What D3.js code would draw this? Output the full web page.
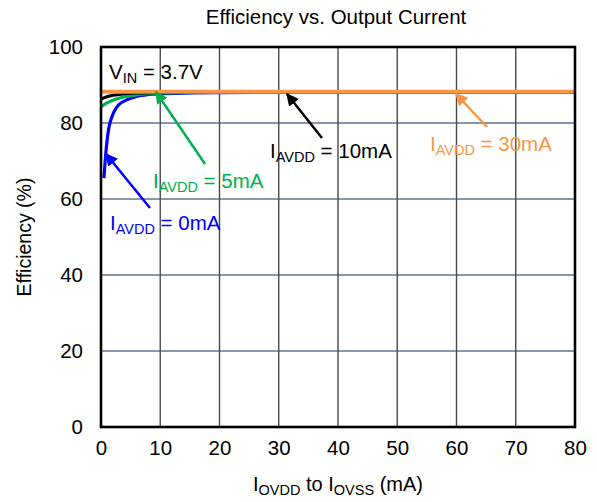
<!DOCTYPE html>
<html><head><meta charset="utf-8">
<script src="https://cdn.jsdelivr.net/npm/d3@7"></script>
<style>body{margin:0;background:#fff}svg{font-family:"Liberation Sans",Arial,sans-serif}</style>
</head><body><svg id="c" width="597" height="502"></svg>
<script>
const xTicks = [0,10,20,30,40,50,60,70,80];
const yTicks = [0,20,40,60,80,100];
const x0mA = [0.5,0.7,1,1.3,1.7,2.2,3,4,5,6,8,10,15,20,30,40,50,60,70,80];
const y0mA = [65.5,70,75,78.5,81,83,84.8,85.8,86.5,87,87.5,87.7,87.9,88,88.1,88.1,88.1,88.1,88.1,88.1];
const x5mA = [0,1,2,3,4,6,8,10,15,20,30,40,50,60,70,80];
const y5mA = [84.3,85.3,86,86.5,86.9,87.4,87.7,87.9,88,88.1,88.1,88.1,88.1,88.1,88.1,88.1];
const x10mA = [0,1,2,4,6,10,20,30,40,50,60,70,80];
const y10mA = [86.3,86.9,87.3,87.7,87.9,88,88.1,88.1,88.1,88.1,88.1,88.1,88.1];
const x30mA = [0,10,20,30,40,50,60,70,80];
const y30mA = [88.2,88.2,88.2,88.2,88.2,88.2,88.2,88.2,88.2];

const svg = d3.select("#c");
const L=101,R=575,T=47,B=427;
const x = d3.scaleLinear().domain([0,80]).range([L,R]);
const y = d3.scaleLinear().domain([0,100]).range([B,T]);

svg.append("text").attr("x",336).attr("y",24).attr("text-anchor","middle").attr("font-size",20.5).text("Efficiency vs. Output Current");

// grid
svg.append("g").selectAll("line").data(yTicks.slice(1,-1)).join("line")
 .attr("x1",L).attr("x2",R).attr("y1",d=>y(d)).attr("y2",d=>y(d)).attr("stroke","#5f7390").attr("stroke-width",1.4);
svg.append("g").selectAll("line").data(xTicks.slice(1,-1)).join("line")
 .attr("y1",T).attr("y2",B).attr("x1",d=>x(d)).attr("x2",d=>x(d)).attr("stroke","#4a4a4a").attr("stroke-width",1.4);

// axes labels
const xa = svg.append("g").attr("transform",`translate(0,${B})`).call(d3.axisBottom(x).tickValues(xTicks).tickSize(0).tickPadding(13));
xa.select(".domain").remove();
xa.selectAll("text").attr("font-size",20.5).attr("font-family","Liberation Sans, Arial").attr("fill","#000");
const ya = svg.append("g").attr("transform",`translate(${L},0)`).call(d3.axisLeft(y).tickValues(yTicks).tickSize(0).tickPadding(18));
ya.select(".domain").remove();
ya.selectAll("text").attr("font-size",20.5).attr("font-family","Liberation Sans, Arial").attr("fill","#000");

svg.append("text").attr("transform","translate(31,237) rotate(-90)").attr("text-anchor","middle").attr("font-size",19.5).text("Efficiency (%)");
const xl = svg.append("text").attr("x",338).attr("y",491).attr("text-anchor","middle").attr("font-size",20);
xl.append("tspan").text("I");
xl.append("tspan").attr("font-size",14.5).attr("dy",4).text("OVDD");
xl.append("tspan").attr("dy",-4).text(" to I");
xl.append("tspan").attr("font-size",14.5).attr("dy",4).text("OVSS");
xl.append("tspan").attr("dy",-4).text(" (mA)");

// curves
const line = d3.line().x(d=>x(d[0])).y(d=>y(d[1])).curve(d3.curveMonotoneX);
const series = [
 {xs:x0mA, ys:y0mA, c:"#0000ff", w:3.2},
 {xs:x5mA, ys:y5mA, c:"#00b050", w:3.2},
 {xs:x10mA, ys:y10mA, c:"#000000", w:3.2},
 {xs:x30mA, ys:y30mA, c:"#f79646", w:4}
];
svg.append("defs");
series.forEach(s=>{
 svg.append("path").datum(s.xs.map((v,i)=>[v,s.ys[i]])).attr("d",line).attr("fill","none").attr("stroke",s.c).attr("stroke-width",s.w);
});

// frame
svg.append("rect").attr("x",L).attr("y",T).attr("width",R-L).attr("height",B-T).attr("fill","none").attr("stroke","#000").attr("stroke-width",2.6);

// annotations
const defs = svg.select("defs");
function arrow(id,c){
 defs.append("marker").attr("id",id).attr("viewBox","0 0 10 10").attr("refX",9).attr("refY",5)
  .attr("markerWidth",5).attr("markerHeight",5).attr("orient","auto").attr("markerUnits","strokeWidth")
  .append("path").attr("d","M0,0 L10,5 L0,10 Z").attr("fill",c);
}
const ann = [
 {id:"a0",c:"#0000ff",x1:150,y1:208,x2:106,y2:154,tx:110,ty:230,lab:"0mA"},
 {id:"a5",c:"#00b050",x1:205,y1:164,x2:156,y2:92,tx:153,ty:188,lab:"5mA"},
 {id:"a10",c:"#000000",x1:322,y1:138,x2:287,y2:94,tx:270,ty:158,lab:"10mA"},
 {id:"a30",c:"#f79646",x1:487,y1:127,x2:456,y2:94,tx:430,ty:151,lab:"30mA"}
];
ann.forEach(a=>{
 arrow(a.id,a.c);
 svg.append("line").attr("x1",a.x1).attr("y1",a.y1).attr("x2",a.x2).attr("y2",a.y2)
  .attr("stroke",a.c).attr("stroke-width",2.5).attr("marker-end",`url(#${a.id})`);
 const t = svg.append("text").attr("x",a.tx).attr("y",a.ty).attr("font-size",20.5).attr("fill",a.c);
 t.append("tspan").text("I");
 t.append("tspan").attr("font-size",14.5).attr("dy",4).text("AVDD");
 t.append("tspan").attr("dy",-4).text(" = "+a.lab);
});
const v = svg.append("text").attr("x",109).attr("y",79).attr("font-size",20.5);
v.append("tspan").text("V");
v.append("tspan").attr("font-size",14.5).attr("dy",4).text("IN");
v.append("tspan").attr("dy",-4).text(" = 3.7V");
</script></body></html>
